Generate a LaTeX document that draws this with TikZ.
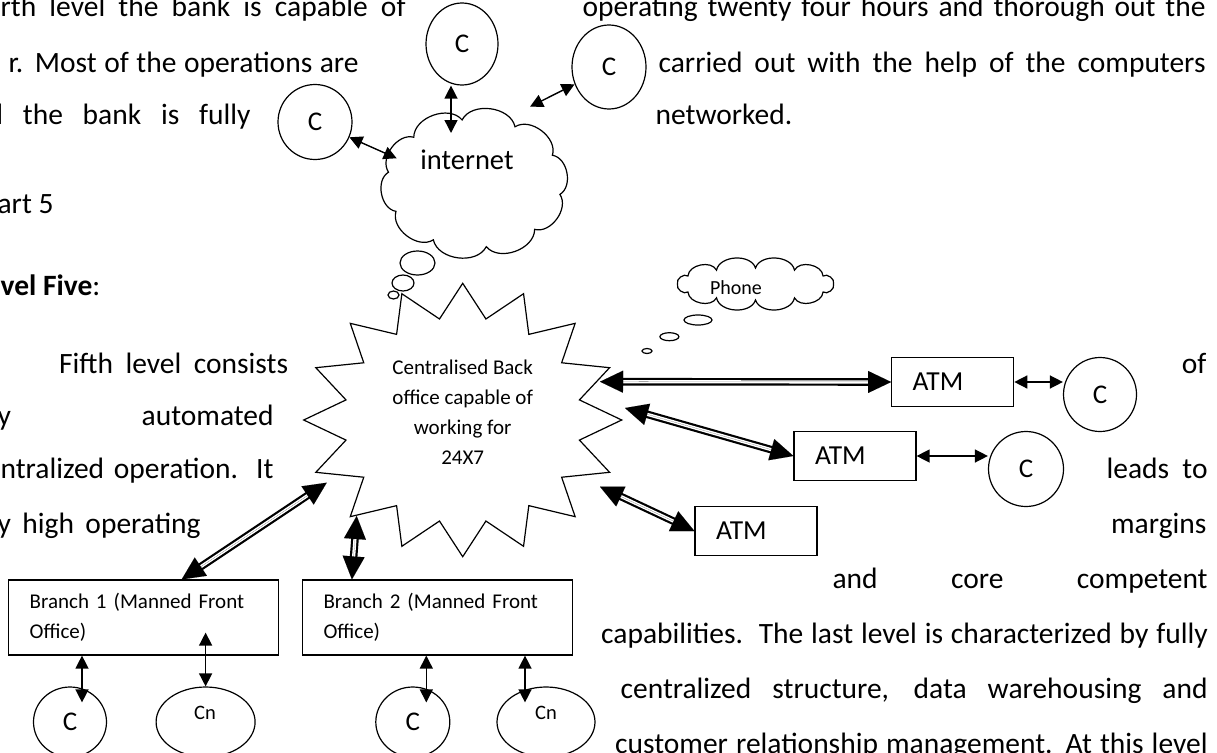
\documentclass[tikz,border=0pt]{standalone}
\usepackage{fontspec}
\setmainfont{Carlito}
\usetikzlibrary{shapes.geometric,arrows.meta}

\begin{document}
\begin{tikzpicture}[x=1pt, y=-1pt, line width=1.2pt,
    txt/.style={anchor=base west, inner sep=0pt, font=\fontsize{29.5}{35}\selectfont},
    comp/.style={ellipse, draw, inner sep=0pt, font=\fontsize{27}{30}\selectfont},
    atmbox/.style={rectangle, draw, minimum height=49pt, text width=80pt, inner xsep=21pt, align=left, font=\fontsize{27.5}{30}\selectfont},
    branch/.style={rectangle, draw, minimum height=75pt, text width=228pt, inner xsep=21pt, align=left, font=\fontsize{21}{30}\selectfont},
    link/.style={{Triangle[length=13pt,width=13pt]}-{Triangle[length=13pt,width=13pt]}, line width=1.4pt},
    dline/.style={double, double distance=3.2pt, line width=2.2pt, shorten <=21pt, shorten >=21pt},
    dtips/.style={line width=0.01pt, {Triangle[length=23pt,width=22pt]}-{Triangle[length=23pt,width=22pt]}}]
    \useasboundingbox (0,0) rectangle (1217,752);
    \clip (0,0) rectangle (1217,752);
    \fill[white] (0,0) rectangle (1217,752);

    % Page text, left column
    \foreach \x/\y/\w/\t [count=\n] in {0/17/405/{rth level the bank is capable of},
        8/72/350/{r. Most of the operations are}, -13/124/263/{d the bank is fully},
        58.5/373/229/{Fifth level consists}, -3/425/276/{y automated},
        0/478/273/{ntralized operation. It}, -3/533/203/{y high operating}} {
        \node[txt] (left\n) at (\x,\y) {\makebox[\w pt][s]{\t}};
    }
    \node[txt] (part) at (-3,213) {art 5};
    \node[txt] (head) at (0,295) {\textbf{vel Five}:};

    % Page text, right column
    \foreach \x/\y/\w/\t [count=\n] in {582/17/623/{operating twenty four hours and thorough out the},
        658/72/547/{carried out with the help of the computers}, 1106/478/101/{leads to},
        832/588/375/{and core competent},
        600.6/643/606.6/{capabilities.\ \ The last level is characterized by fully},
        620/698/587/{centralized structure, data warehousing and},
        614.5/753/592.5/{customer relationship management. At this level}} {
        \node[txt] (right\n) at (\x,\y) {\makebox[\w pt][s]{\t}};
    }
    \node[txt] (netw) at (655,124) {networked.};
    \node[txt, anchor=base east] (of) at (1207,373) {of};
    \node[txt, anchor=base east] (marg) at (1207,533) {margins};

    % Internet cloud
    \begin{scope}[shift={(474.2,183.3)}]
        \draw[fill=white] (10:87 and 64) \foreach \k in {1,...,10} {
            to[bend left=70] ({10+36*\k}:87 and 64) } -- cycle;
    \end{scope}
    \node[font=\fontsize{28.5}{30}\selectfont] (nettxt) at (467,160) {internet};
    \draw (417.5,263) ellipse (17.5 and 12);
    \draw (403,283) ellipse (11 and 8);
    \draw (393.5,295) ellipse (5.5 and 4);

    % Phone cloud
    \begin{scope}[shift={(755.5,284)}]
        \draw[fill=white] (0:78 and 16) \foreach \k in {1,...,12} {
            to[bend left=75] ({30*\k}:78 and 16) } -- cycle;
    \end{scope}
    \node[font=\fontsize{20}{24}\selectfont] (phonetxt) at (736,288) {Phone};
    \draw (698,320) ellipse (14 and 5);
    \draw (669.4,336.7) ellipse (9.5 and 4);
    \draw (647,351) ellipse (5 and 2.5);

    % Back office star
    \begin{scope}[shift={(462.7,420)}]
        \draw[fill=white] (90:159 and 136.7) \foreach \k in {0,...,15} {
            -- ({101.25+22.5*\k}:119 and 103) -- ({112.5+22.5*\k}:159 and 136.7) } -- cycle;
    \end{scope}
    \node[align=center, font=\fontsize{21}{30}\selectfont] (cbo) at (462.7,412) {Centralised Back\\office capable of\\working for\\24X7};
    \coordinate (s1) at (600,381.7);
    \coordinate (s2) at (625,408);
    \coordinate (s3) at (600,486.7);
    \coordinate (s4) at (326.7,482.7);
    \coordinate (s5) at (356.7,516);
    \coordinate (n1) at (396.7,158.3);
    \coordinate (n2) at (451,133);
    \coordinate (n3) at (530,106.7);

    % Computers on the internet
    \node[comp, minimum width=72pt, minimum height=82pt] (ct) at (462,44) {C};
    \node[comp, minimum width=74pt, minimum height=84pt] (cr) at (609,67) {C};
    \node[comp, minimum width=74pt, minimum height=75pt] (cl) at (315,122) {C};

    % ATMs
    \node[atmbox] (atm1) at (952.7,382) {ATM};
    \node[atmbox] (atm2) at (855,456) {ATM};
    \node[atmbox] (atm3) at (756,531) {ATM};
    \node[comp, minimum width=73pt, minimum height=74pt] (c1) at (1100,394.5) {C};
    \node[comp, minimum width=75pt, minimum height=75pt] (c2) at (1026,469) {C};

    % Branches
    \node[branch] (b1) at (143.7,617.5) {Branch 1 (Manned Front\\Office)};
    \node[branch] (b2) at (437.5,617.5) {Branch 2 (Manned Front\\Office)};
    \node[comp, minimum width=73pt, minimum height=70pt] (bc1) at (70,722) {C};
    \node[comp, minimum width=99pt, minimum height=70pt] (bn1) at (205.6,722) {};
    \node[font=\fontsize{20.5}{24}\selectfont] (bn1t) at (205,713) {Cn};
    \node[comp, minimum width=74pt, minimum height=70pt] (bc2) at (412.8,722) {C};
    \node[comp, minimum width=98pt, minimum height=70pt] (bn2) at (546,722) {};
    \node[font=\fontsize{20.5}{24}\selectfont] (bn2t) at (546,713) {Cn};

    % Connections
    \draw[link] (cl) -- (n1);
    \draw[link] (n2 |- ct.south) -- (n2);
    \draw[link] (n3) -- (cr);
    \draw[link] (atm1.east) -- (atm1.east -| c1.west);
    \draw[link] (atm2.east) -- (atm2.east -| c2.west);
    \draw[link] ([xshift=12pt]bc1.north |- b1.south) -- ([xshift=12pt,yshift=-16pt]bc1.north);
    \draw[link] ([yshift=23pt]b1.south -| bn1.north) -- (bn1.north);
    \draw[link] ([xshift=13.5pt]bc2.north |- b2.south) -- ([xshift=13.5pt,yshift=-16pt]bc2.north);
    \draw[link] ([xshift=-21pt]bn2.north |- b2.south) -- ([xshift=-21pt,yshift=-16pt]bn2.north);
    \foreach \a/\b in {s1/atm1.west, s2/atm2.west, s3/atm3.west} {
        \draw[dline] (\a) -- (\b);
        \draw[dtips] (\a) -- (\b);
    }
    \draw[dline] (s4) -- ([xshift=38pt]b1.north);
    \draw[dtips] (s4) -- ([xshift=38pt]b1.north);
    \draw[dline] (s5) -- ([xshift=50pt]b2.north west);
    \draw[dtips] (s5) -- ([xshift=50pt]b2.north west);
\end{tikzpicture}
\end{document}
